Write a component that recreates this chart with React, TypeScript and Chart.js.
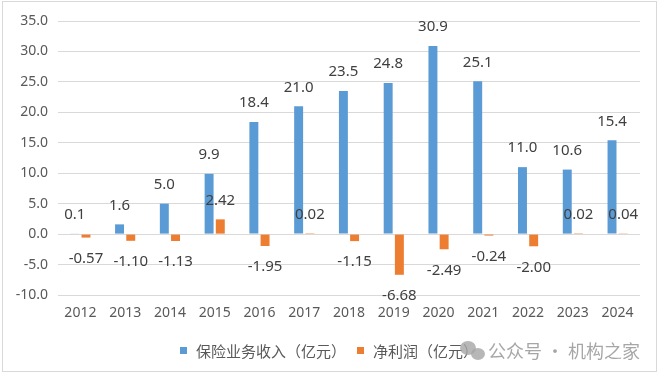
import React, { useEffect, useRef } from "react";
import { Chart, registerables } from "chart.js";

Chart.register(...registerables);

const years = ["2012", "2013", "2014", "2015", "2016", "2017", "2018", "2019", "2020", "2021", "2022", "2023", "2024"];
const premiumIncome = [0.1, 1.6, 5.0, 9.9, 18.4, 21.0, 23.5, 24.8, 30.9, 25.1, 11.0, 10.6, 15.4];
const netProfit = [-0.57, -1.1, -1.13, 2.42, -1.95, 0.02, -1.15, -6.68, -2.49, -0.24, -2.0, 0.02, 0.04];
const seriesNames = ["保险业务收入（亿元）", "净利润（亿元）"];
const decimals = [1, 2];
const watermark = "公众号 · 机构之家";

const BLUE = "#5B9BD5";
const ORANGE = "#ED7D31";
const FONT = '"Noto Sans", "Noto Sans CJK SC", sans-serif';
const CJK = '"Noto Sans CJK SC", "Noto Sans", sans-serif';

const framePlugin = {
  id: "frame",
  beforeDraw(chart: any) {
    const { ctx } = chart;
    ctx.save();
    ctx.fillStyle = "#ffffff";
    ctx.fillRect(0, 0, chart.width, chart.height);
    ctx.strokeStyle = "#D9D9D9";
    ctx.lineWidth = 1;
    ctx.strokeRect(2.5, 1.5, 654, 370);
    ctx.restore();
  },
  afterDatasetsDraw(chart: any) {
    const { ctx } = chart;
    ctx.save();
    ctx.font = `15px ${FONT}`;
    ctx.fillStyle = "#404040";
    ctx.textAlign = "center";
    ctx.textBaseline = "middle";
    chart.data.datasets.forEach((ds: any, di: number) => {
      const meta = chart.getDatasetMeta(di);
      meta.data.forEach((el: any, i: number) => {
        const v = ds.data[i];
        const y = v >= 0 ? el.y - 19 : el.y + 21;
        ctx.fillText(v.toFixed(decimals[di]), el.x, y);
      });
    });
    ctx.restore();
  },
  afterDraw(chart: any) {
    const { ctx } = chart;
    ctx.save();
    const ly = 351;
    ctx.font = `15px ${CJK}`;
    ctx.textBaseline = "middle";
    ctx.textAlign = "left";
    const colors = [BLUE, ORANGE];
    const xs = [180, 357];
    seriesNames.forEach((n, i) => {
      ctx.fillStyle = colors[i];
      ctx.fillRect(xs[i], ly - 4, 7, 7);
      ctx.fillStyle = "#595959";
      ctx.fillText(n, xs[i] + 16, ly);
    });
    ctx.fillStyle = "rgba(165,165,165,0.8)";
    ctx.beginPath();
    ctx.ellipse(468, 348, 8, 7, 0, 0, Math.PI * 2);
    ctx.fill();
    ctx.beginPath();
    ctx.ellipse(478, 354, 7, 6, 0, 0, Math.PI * 2);
    ctx.fill();
    ctx.font = `18px ${CJK}`;
    ctx.fillStyle = "rgba(150,150,150,0.85)";
    ctx.fillText(watermark, 488, ly);
    ctx.restore();
  },
};

export default function App() {
  const ref = useRef<HTMLCanvasElement>(null);
  useEffect(() => {
    document.body.style.margin = "0";
    const chart = new Chart(ref.current as HTMLCanvasElement, {
      type: "bar",
      data: {
        labels: years,
        datasets: [
          { label: seriesNames[0], data: premiumIncome, backgroundColor: BLUE, categoryPercentage: 0.5, barPercentage: 0.8 },
          { label: seriesNames[1], data: netProfit, backgroundColor: ORANGE, categoryPercentage: 0.5, barPercentage: 0.8 },
        ],
      },
      options: {
        responsive: false,
        animation: false,
        devicePixelRatio: 1,
        layout: { padding: { left: 0, right: 20, top: 21, bottom: 52 } },
        plugins: { legend: { display: false }, tooltip: { enabled: false } },
        scales: {
          x: {
            grid: { display: false, drawTicks: false },
            border: { display: false },
            ticks: { color: "#595959", font: { family: FONT, size: 14 }, padding: 10 },
            afterFit: (a: any) => { a.height = 30; },
          },
          y: {
            min: -10,
            max: 35,
            grid: { color: "#D9D9D9", drawTicks: false },
            border: { display: false },
            ticks: {
              stepSize: 5,
              color: "#595959",
              font: { family: FONT, size: 14 },
              padding: 10,
              callback: (v: any) => Number(v).toFixed(1),
            },
            afterFit: (a: any) => { a.width = 58; },
          },
        },
      },
      plugins: [framePlugin],
    });
    return () => chart.destroy();
  }, []);
  return (
    <div style={{ position: "absolute", left: 0, top: 0, width: 660, height: 377 }}>
      <canvas ref={ref} width={660} height={377} />
    </div>
  );
}
